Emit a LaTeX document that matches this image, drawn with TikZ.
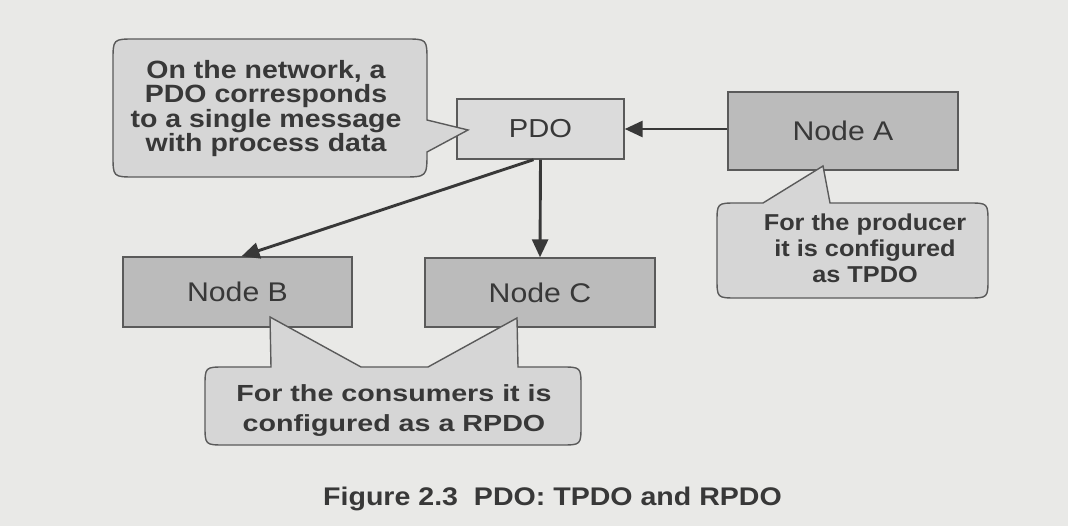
\documentclass[tikz,border=0pt]{standalone}
\usepackage{fontspec}
\setmainfont{Liberation Sans}
% Arial-metric faces, slightly widened as printed
\newfontfamily\netfont[FakeStretch=1.14]{Liberation Sans}
\newfontfamily\prodfont[FakeStretch=1.10]{Liberation Sans}
\newfontfamily\consfont[FakeStretch=1.23]{Liberation Sans}
\newfontfamily\boxfont[FakeStretch=1.12]{Liberation Sans}
\usetikzlibrary{arrows.meta}

\definecolor{paper}{HTML}{E9E9E7}
\definecolor{boxdark}{HTML}{BBBBBB}
\definecolor{boxlight}{HTML}{DBDBDB}
\definecolor{bubblefill}{HTML}{D6D6D6}
\definecolor{ink}{HTML}{383838}
\definecolor{edge}{HTML}{5A5A5A}

\begin{document}
\begin{tikzpicture}[x=1pt, y=-1pt,
  nodebox/.style={draw=edge, line width=1.4pt, fill=boxdark, inner sep=0pt,
    text=ink, font=\boxfont\fontsize{27}{30}\selectfont},
  pdobox/.style={nodebox, fill=boxlight, font=\boxfont\fontsize{26}{30}\selectfont},
  flow/.style={draw=ink, line width=2.9pt, -{Triangle[length=18pt,width=16pt]}},
  bubble/.style={draw=edge, line width=1.4pt, fill=bubblefill, line join=miter},
  bubbletext/.style={text=ink, align=center, inner sep=0pt}
]
% page
\fill[paper] (0,0) rectangle (1068,526);
\useasboundingbox (0,0) rectangle (1068,526);

% objects
\node[pdobox,  minimum width=167pt, minimum height=60pt] (pdo)   at (540.5,129) {PDO};
\node[nodebox, minimum width=230pt, minimum height=78pt] (nodeA) at (843,131)   {Node A};
\node[nodebox, minimum width=229pt, minimum height=70pt] (nodeB) at (237.5,292) {Node B};
\node[nodebox, minimum width=230pt, minimum height=69pt] (nodeC) at (540,292.5) {Node C};

% data flow
\draw[flow] (nodeA.west |- pdo.east) -- (pdo.east);
\draw[flow] ([xshift=-7pt]pdo.south) -- ([xshift=4pt]nodeB.north);
\draw[flow] (pdo.south) -- (nodeC.north);

% speech bubbles
\draw[bubble] (135,39) -- (405,39) .. controls (427,39) .. (427,61) -- (427,120)
  -- (468,130) -- (427,152) .. controls (427,177) .. (402,177) -- (135,177)
  .. controls (113,177) .. (113,155) -- (113,61) .. controls (113,39) .. (135,39) -- cycle;
\draw[bubble] (737,203) -- (763,203) -- (823,166) -- (830,203) -- (968,203)
  .. controls (988,203) .. (988,223) -- (988,278) .. controls (988,298) .. (968,298)
  -- (737,298) .. controls (717,298) .. (717,278) -- (717,223)
  .. controls (717,203) .. (737,203) -- cycle;
\draw[bubble] (225,367) -- (271,367) -- (270,317) -- (361,367) -- (428,367)
  -- (517,318) -- (518,367) -- (561,367) .. controls (581,367) .. (581,387)
  -- (581,425) .. controls (581,445) .. (561,445) -- (225,445)
  .. controls (205,445) .. (205,425) -- (205,387) .. controls (205,367) .. (225,367) -- cycle;

\node[bubbletext, font=\netfont\bfseries\fontsize{25}{24.5}\selectfont] (netnote) at (266,108.3)
  {On the network, a\\PDO corresponds\\to a single message\\with process data};
\node[bubbletext, font=\prodfont\bfseries\fontsize{23}{26}\selectfont] (prodnote) at (865,248.3)
  {For the producer\\it is configured\\as TPDO};
\node[bubbletext, font=\consfont\bfseries\fontsize{23.3}{30}\selectfont] (consnote) at (394,410.6)
  {For the consumers it is\\configured as a RPDO};

% caption
\node[anchor=base, inner sep=0pt, text=ink, font=\boxfont\bfseries\fontsize{25.5}{30}\selectfont]
  (caption) at (552.5,505) {Figure 2.3\ \ PDO: TPDO and RPDO};
\end{tikzpicture}
\end{document}
